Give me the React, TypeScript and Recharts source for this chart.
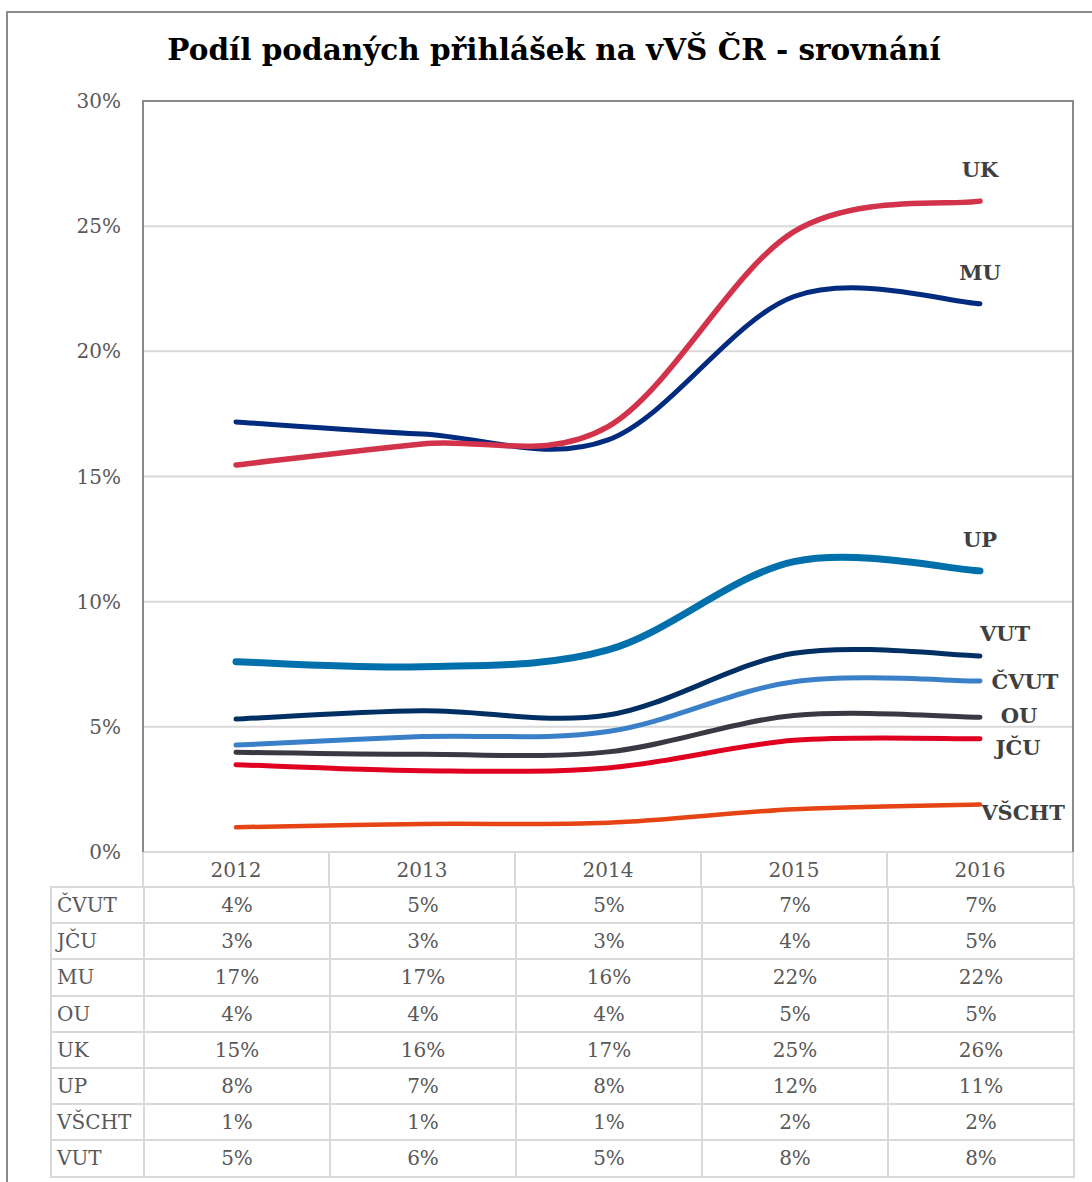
import React from "react"
import { LineChart, Line, XAxis, YAxis, CartesianGrid } from "recharts"

// values in percent
const years = ["2012", "2013", "2014", "2015", "2016"]
const yTicks = [0, 5, 10, 15, 20, 25, 30]

const cvut = [4.27, 4.61, 4.81, 6.8, 6.83]
const jcu = [3.49, 3.25, 3.36, 4.46, 4.52]
const mu = [17.18, 16.7, 16.46, 22.19, 21.9]
const ou = [3.98, 3.9, 4.0, 5.45, 5.38]
const uk = [15.46, 16.3, 16.99, 24.78, 26.0]
const up = [7.6, 7.4, 8.07, 11.6, 11.23]
const vscht = [0.99, 1.12, 1.17, 1.71, 1.9]
const vut = [5.31, 5.64, 5.47, 7.94, 7.83]

const series = [
	{ key: "ČVUT", values: cvut, color: "#3a80c8", width: 5, dx: 45, dy: 0 },
	{ key: "JČU", values: jcu, color: "#e00020", width: 5, dx: 38, dy: 9 },
	{ key: "MU", values: mu, color: "#002b7f", width: 5, dx: 0, dy: -31 },
	{ key: "OU", values: ou, color: "#393943", width: 5, dx: 39, dy: -2 },
	{ key: "UK", values: uk, color: "#d3334a", width: 5.5, dx: 0, dy: -32 },
	{ key: "UP", values: up, color: "#0070ad", width: 7, dx: 0, dy: -31 },
	{ key: "VŠCHT", values: vscht, color: "#e64415", width: 4.5, dx: 43, dy: 8 },
	{ key: "VUT", values: vut, color: "#002f63", width: 5, dx: 25, dy: -23 },
]

const data = years.map((year, i) => {
	const row: Record<string, string | number> = { year }
	series.forEach((s) => (row[s.key] = s.values[i]))
	return row
})

const FONT = "'DejaVu Serif', Georgia, serif"
const TEXT = "#595959"
const GRID = "#d9d9d9"

const PLOT_LEFT = 143
const PLOT_RIGHT = 1073
const PLOT_TOP = 101
const PLOT_BOTTOM = 852
const HEADER_H = 35
const BAND = (PLOT_RIGHT - PLOT_LEFT) / years.length

// excel-like smoothing: bezier through every point, tangents from neighbours
const excelSmooth = (context: any) => {
	let pts: number[][] = []
	return {
		areaStart() {},
		areaEnd() {},
		lineStart() {
			pts = []
		},
		point(x: number, y: number) {
			pts.push([+x, +y])
		},
		lineEnd() {
			if (!pts.length) return
			context.moveTo(pts[0][0], pts[0][1])
			for (let i = 0; i < pts.length - 1; i++) {
				const p0 = pts[i - 1] || pts[i]
				const p1 = pts[i]
				const p2 = pts[i + 1]
				const p3 = pts[i + 2] || pts[i + 1]
				context.bezierCurveTo(
					p1[0] + (p2[0] - p0[0]) / 6,
					p1[1] + (p2[1] - p0[1]) / 6,
					p2[0] - (p3[0] - p1[0]) / 6,
					p2[1] - (p3[1] - p1[1]) / 6,
					p2[0],
					p2[1],
				)
			}
		},
	}
}

function YearTick(props: any) {
	const { x, payload, index } = props
	const half = BAND / 2
	return (
		<g>
			<line x1={x - half} x2={x - half} y1={PLOT_BOTTOM} y2={PLOT_BOTTOM + HEADER_H} stroke={GRID} strokeWidth={2} />
			{index === years.length - 1 && (
				<line x1={x + half} x2={x + half} y1={PLOT_BOTTOM} y2={PLOT_BOTTOM + HEADER_H} stroke={GRID} strokeWidth={2} />
			)}
			<text x={x} y={PLOT_BOTTOM + HEADER_H / 2} dy="0.36em" textAnchor="middle" fontSize={20} fontFamily={FONT} fill={TEXT}>
				{payload.value}
			</text>
		</g>
	)
}

function endLabel(name: string, dx: number, dy: number) {
	return (props: any) => {
		const { x, y, index } = props
		if (index !== years.length - 1) return <g />
		return (
			<text x={x + dx} y={y + dy} dy="0.36em" textAnchor="middle" fontSize={21} fontWeight="bold" fontFamily={FONT} fill="#404040">
				{name}
			</text>
		)
	}
}

export default function App() {
	return (
		<div style={{ position: "absolute", left: 0, top: 0, width: 1092, height: 1182, overflow: "hidden", background: "#fff", fontFamily: FONT }}>
			<div style={{ position: "absolute", left: 6, top: 11, width: 1200, height: 1300, borderLeft: "2px solid #8c8c8c", borderTop: "2px solid #8c8c8c" }} />
			<div style={{ position: "absolute", left: 0, top: 33, width: 1108, textAlign: "center", fontSize: 29.5, lineHeight: "34px", fontWeight: "bold", color: "#000" }}>
				Podíl podaných přihlášek na vVŠ ČR - srovnání
			</div>
			<div style={{ position: "absolute", left: 0, top: 0 }}>
				<LineChart width={1092} height={890} data={data} margin={{ top: PLOT_TOP, right: 1092 - PLOT_RIGHT, left: 0, bottom: 890 - PLOT_BOTTOM - HEADER_H }}>
					<CartesianGrid vertical={false} stroke={GRID} strokeWidth={2} />
					<XAxis
						dataKey="year"
						height={HEADER_H}
						padding={{ left: BAND / 2, right: BAND / 2 }}
						axisLine={{ stroke: GRID, strokeWidth: 2 }}
						tickLine={false}
						tick={<YearTick />}
						interval={0}
					/>
					<YAxis
						width={PLOT_LEFT}
						domain={[0, 30]}
						ticks={yTicks}
						axisLine={false}
						tickLine={false}
						tickMargin={16}
						tickFormatter={(v: number) => `${v}%`}
						tick={{ fontSize: 20, fill: TEXT, fontFamily: FONT }}
					/>
					{series.map((s) => (
						<Line
							key={s.key}
							dataKey={s.key}
							type={excelSmooth as any}
							stroke={s.color}
							strokeWidth={s.width}
							strokeLinecap="round"
							dot={false}
							activeDot={false}
							isAnimationActive={false}
							label={endLabel(s.key, s.dx, s.dy)}
						/>
					))}
				</LineChart>
			</div>
			<div
				style={{
					position: "absolute",
					left: PLOT_LEFT - 1,
					top: PLOT_TOP - 1,
					width: PLOT_RIGHT - PLOT_LEFT + 2,
					height: PLOT_BOTTOM - PLOT_TOP + 1,
					boxSizing: "border-box",
					borderLeft: "2px solid #8a8a8a",
					borderTop: "2px solid #8a8a8a",
					borderRight: "2px solid #8a8a8a",
					pointerEvents: "none",
				}}
			/>
			<table
				style={{
					position: "absolute",
					left: 50,
					top: PLOT_BOTTOM + HEADER_H - 1,
					width: PLOT_RIGHT - 50 + 1,
					borderCollapse: "collapse",
					tableLayout: "fixed",
					fontSize: 20,
					color: TEXT,
				}}
			>
				<colgroup>
					<col style={{ width: PLOT_LEFT - 50 }} />
					{years.map((y) => (
						<col key={y} style={{ width: BAND }} />
					))}
				</colgroup>
				<tbody>
					{series.map((s) => (
						<tr key={s.key} style={{ height: 36.2 }}>
							<td style={{ border: `2px solid ${GRID}`, padding: "0 0 0 5px", textAlign: "left", whiteSpace: "nowrap" }}>{s.key}</td>
							{s.values.map((v, i) => (
								<td key={i} style={{ border: `2px solid ${GRID}`, padding: 0, textAlign: "center" }}>
									{Math.round(v)}%
								</td>
							))}
						</tr>
					))}
				</tbody>
			</table>
		</div>
	)
}
